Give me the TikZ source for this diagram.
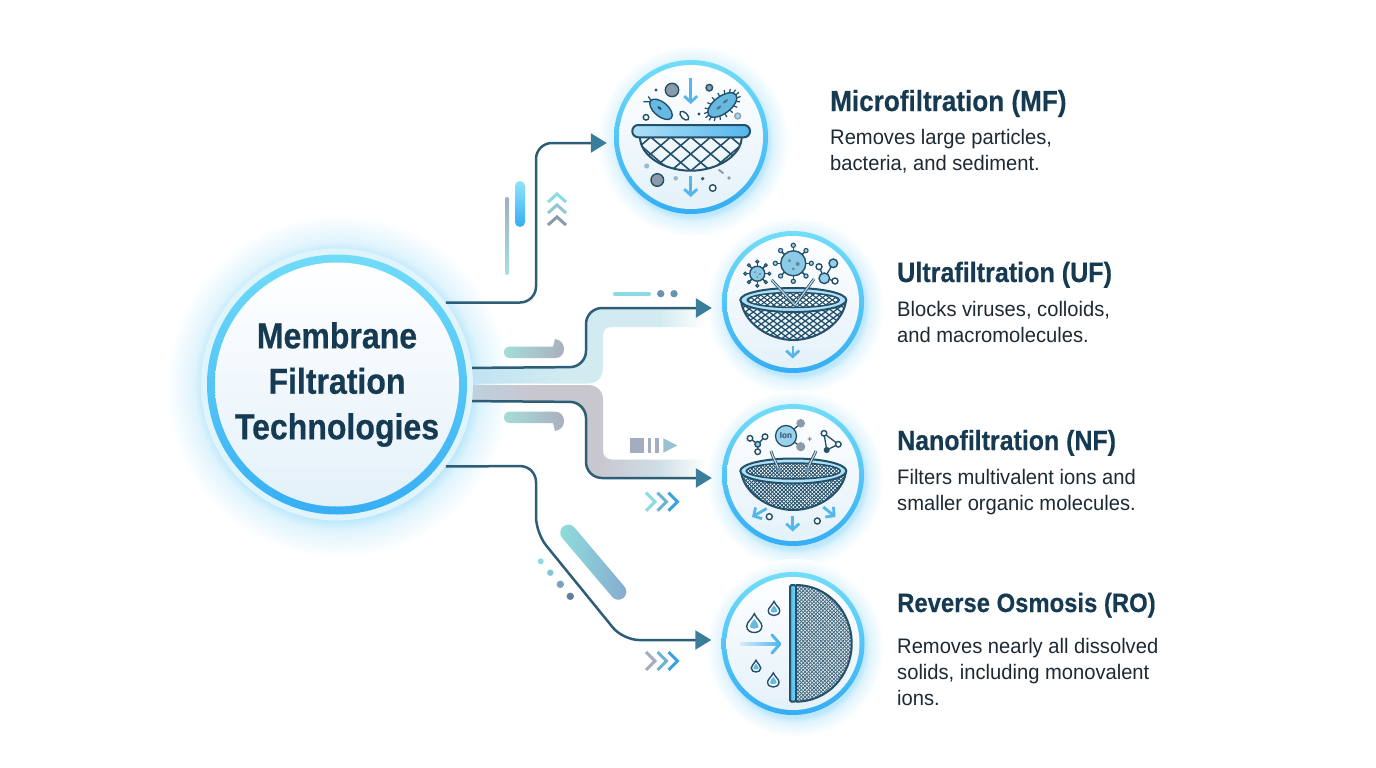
\documentclass[tikz,border=0pt]{standalone}
\usepackage{fontspec}
\usetikzlibrary{arrows.meta}
\setmainfont{Liberation Sans}
\newfontfamily\hubfont[FakeStretch=0.89,BoldFeatures={FakeStretch=0.89,FakeBold=0.5}]{Liberation Sans}
\newfontfamily\headfont[FakeStretch=0.90,BoldFeatures={FakeStretch=0.90,FakeBold=0.4}]{Liberation Sans}
\newfontfamily\bodyfont[FakeStretch=0.96]{Liberation Sans}
\definecolor{navy}{HTML}{153A52}
\definecolor{bodyink}{HTML}{1E2A33}
\definecolor{wire}{HTML}{2E5E77}
\definecolor{tipc}{HTML}{3B7E9B}
\definecolor{ink}{HTML}{24506A}
\definecolor{ringtop}{HTML}{72DDF8}
\definecolor{ringbot}{HTML}{35ADF5}
\definecolor{innerbot}{HTML}{E3F1FA}
\definecolor{pale}{HTML}{E0F4FC}
\definecolor{sky}{HTML}{55B6EC}
\definecolor{germ}{HTML}{66B9E0}
\definecolor{graydot}{HTML}{8C9BAA}
\definecolor{glowc}{HTML}{BDE8FB}
\definecolor{glowd}{HTML}{E0F4FD}
\definecolor{bandA}{HTML}{C0E3F2}
\definecolor{bandB}{HTML}{D2EBF0}
\definecolor{bandC}{HTML}{BED0DD}
\definecolor{bandD}{HTML}{C8C7D0}
\definecolor{bandE}{HTML}{CFDEE5}
\definecolor{HTMLgray}{HTML}{9FB0BC}
\definecolor{HTMLteal}{HTML}{A6E0E2}
\definecolor{HTMLch1}{HTML}{8ADBE3}
\definecolor{HTMLch2}{HTML}{93C6D3}
\definecolor{HTMLch3}{HTML}{8899AD}
\definecolor{HTMLch4}{HTML}{A4AEBB}
\definecolor{HTMLdot}{HTML}{6A94AD}
\definecolor{HTMLp1}{HTML}{A5DCD8}
\definecolor{HTMLp2}{HTML}{AAB0BF}
\definecolor{HTMLsq}{HTML}{A4ADBF}
\definecolor{HTMLtr}{HTML}{9CC0D3}
\definecolor{HTMLbl1}{HTML}{6AB5D0}
\definecolor{HTMLbl2}{HTML}{3BA2DF}
\definecolor{HTMLd1}{HTML}{8FDFDB}
\definecolor{HTMLd2}{HTML}{86A9CF}
\definecolor{HTMLd3}{HTML}{7FC7D2}
\definecolor{HTMLd4}{HTML}{7BA3B8}
\definecolor{HTMLd5}{HTML}{5D7F9C}
\definecolor{HTMLrim}{HTML}{AEE0F7}
\definecolor{HTMLrd}{HTML}{9DB9CF}
\definecolor{HTMLro}{HTML}{E4ECF1}
\pgfdeclareradialshading{glowshade}{\pgfpointorigin}{color(0bp)=(glowc); color(19.5bp)=(glowc); color(21bp)=(glowd); color(25bp)=(white); color(50bp)=(white)}
\pgfdeclarehorizontalshading{bandup}{100bp}{color(0bp)=(bandA); color(25bp)=(bandA); color(45bp)=(bandB); color(65bp)=(bandB); color(75bp)=(white); color(100bp)=(white)}
\pgfdeclarehorizontalshading{banddown}{100bp}{color(0bp)=(bandC); color(25bp)=(bandC); color(38bp)=(bandD); color(52bp)=(bandD); color(65bp)=(bandE); color(75bp)=(white); color(100bp)=(white)}
\pgfdeclarelayer{under}
\pgfsetlayers{under,main}
\tikzset{
  flow/.style={draw=wire,line width=2.5pt,rounded corners=16pt,-{Triangle[length=16pt,width=19pt,fill=tipc,color=tipc]}},
  ringnode/.style 2 args={circle,minimum size=#1,inner sep=0pt,top color=ringtop,bottom color=ringbot,
    path picture={\shade[top color=white,bottom color=innerbot] (path picture bounding box.center) circle (#2);}},
  hubnode/.style={circle,minimum size=272pt,inner sep=0pt,fill=pale,align=center,text=navy,
    font=\hubfont\bfseries\fontsize{36}{45.5}\selectfont,
    path picture={
      \shade[top color=ringtop,bottom color=ringbot] (path picture bounding box.center) circle (130);
      \shade[top color=white,bottom color=innerbot] (path picture bounding box.center) circle (122);}},
  headline/.style={anchor=base west,inner sep=0pt,text=navy,font=\headfont\bfseries\fontsize{#1}{34}\selectfont},
  bodytext/.style={anchor=north west,inner sep=0pt,align=left,text=bodyink,font=\bodyfont\fontsize{21}{25.8}\selectfont},
  chev/.style={line width=3pt,line cap=butt,miter limit=10},
  mini/.style={draw=ink,line width=1.4pt},
  fall/.style={draw=sky,line width=2.8pt,-{Straight Barb[length=6pt,width=13pt,line width=2.8pt]}},
}
% small marks
\newcommand\ringdot[4]{\draw[mini,fill=#4] (#1,#2) circle (#3);}
\newcommand\soliddot[4]{\fill[#4] (#1,#2) circle (#3);}
\newcommand\rchev[3]{\draw[chev,draw=#3] (#1,#2-9) -- (#1+9,#2) -- (#1,#2+9);}
\newcommand\uchev[3]{\draw[chev,draw=#3] (#1-9,#2+8) -- (#1,#2) -- (#1+9,#2+8);}
\newcommand\germvirus[5]{%
  \foreach \a in {0,45,...,315}{%
    \draw[ink,line width=1.5pt] ({#1+#3*cos(\a)},{#2+#3*sin(\a)}) -- ({#1+(#3+#4)*cos(\a)},{#2+(#3+#4)*sin(\a)});
    \draw[mini,line width=1.1pt,fill=germ!60] ({#1+(#3+#4)*cos(\a)},{#2+(#3+#4)*sin(\a)}) circle (#5);}
  \draw[mini,fill=germ!75] (#1,#2) circle (#3);
  \fill[ink!70] (#1-#3*.3,#2-#3*.2) circle (#3*.13);
  \fill[ink!70] (#1+#3*.35,#2+#3*.05) circle (#3*.16);
  \fill[ink!70] (#1,#2+#3*.45) circle (#3*.12);}
\newcommand\mesh[6]{% cx cy step slope width colour
  \foreach \k in {-30,...,30}{%
    \draw[#6,line width=#5pt] ({#1+\k*#3-70},{#2-70*#4}) -- ({#1+\k*#3+70},{#2+70*#4});
    \draw[#6,line width=#5pt] ({#1+\k*#3-70},{#2+70*#4}) -- ({#1+\k*#3+70},{#2-70*#4});}}
\newcommand\raindrop[3]{%
  \draw[mini,fill=white] (#1,#2-#3*1.35) .. controls (#1+#3*.35,#2-#3*.6) and (#1+#3*.95,#2-#3*.3) .. (#1+#3*.95,#2+#3*.2) .. controls (#1+#3*.95,#2+#3*.75) and (#1+#3*.45,#2+#3) .. (#1,#2+#3) .. controls (#1-#3*.45,#2+#3) and (#1-#3*.95,#2+#3*.75) .. (#1-#3*.95,#2+#3*.2) .. controls (#1-#3*.95,#2-#3*.3) and (#1-#3*.35,#2-#3*.6) .. (#1,#2-#3*1.35) -- cycle;
  \fill[germ] (#1,#2-#3*.7) .. controls (#1+#3*.3,#2-#3*.3) and (#1+#3*.55,#2) .. (#1+#3*.55,#2+#3*.25) .. controls (#1+#3*.55,#2+#3*.6) and (#1-#3*.55,#2+#3*.6) .. (#1-#3*.55,#2+#3*.25) .. controls (#1-#3*.55,#2) and (#1-#3*.3,#2-#3*.3) .. (#1,#2-#3*.7) -- cycle;}
\begin{document}
\begin{tikzpicture}[x=1pt,y=-1pt]
\useasboundingbox (0,0) rectangle (1376,768);

% ---- hub and icon circles
\node[hubnode] (hub) at (337,384.5) {Membrane\\Filtration\\Technologies};
\node[ringnode={154pt}{72}] (mf) at (691,137) {};
\node[ringnode={142pt}{66}] (uf) at (793,302) {};
\node[ringnode={142pt}{66}] (nf) at (793,475) {};
\node[ringnode={143pt}{66.5}] (ro) at (793,643.5) {};

% ---- under layer: background, glows, wide bands
\begin{pgfonlayer}{under}
\fill[white] (0,0) rectangle (1376,768);
\shade[shading=glowshade] (338,386) circle (172);
\shade[shading=glowshade] (693,141) circle (96);
\shade[shading=glowshade] (795,306) circle (89);
\shade[shading=glowshade] (795,479) circle (89);
\shade[shading=glowshade] (795,648) circle (89);
\shade[shading=bandup] (472,367) -- (566,367) .. controls (578,367) and (586,358) .. (586,346) -- (586,328) .. controls (586,316) and (594,308) .. (606,308) -- (706,308) -- (706,327) -- (612,327) .. controls (606,327) and (603,330) .. (603,336) -- (603,368) .. controls (603,378) and (596,383.5) .. (588,383.5) -- (472,383.5) -- cycle;
\shade[shading=banddown] (472,385) -- (588,385) .. controls (597,385) and (603,391) .. (603,400) -- (603,450) .. controls (603,456) and (606,459.5) .. (612,459.5) -- (706,459.5) -- (706,478) -- (606,478) .. controls (594,478) and (586,470) .. (586,458) -- (586,424) .. controls (586,411) and (578,402) .. (566,402) -- (472,402) -- cycle;
\end{pgfonlayer}

% ---- connectors
\draw[flow] (hub.37.3) -- (536,302.5) -- (536,143) -- ([shift={(-7,6)}]mf.west);
\draw[flow] (hub.7.4) -- (586,367) -- (586,308) -- ([shift={(-10,6)}]uf.west);
\draw[flow] (hub.-7.4) -- (586,402) -- (586,478) -- ([shift={(-10,3)}]nf.west);
\draw[flow] (hub.-37.3) -- (536,466) -- (536,533) -- (623,640) -- ([shift={(-10,-3.5)}]ro.west);

% ---- decorative marks along the connectors
\shade[top color=ringtop!80!white,bottom color=ringbot,rounded corners=5pt] (515,181) rectangle (525,227);
\shade[top color=HTMLgray,bottom color=HTMLteal,rounded corners=2pt] (505,197) rectangle (509,275);
\uchev{557}{194}{HTMLch1}
\uchev{557}{205}{HTMLch2}
\uchev{557}{217}{HTMLch3}
\draw[HTMLch1,line width=4pt,line cap=round] (615,293.7) -- (649,293.7);
\fill[HTMLdot] (660.7,293.7) circle (3.7);
\fill[HTMLdot] (674,293.7) circle (3.7);
\shade[left color=HTMLp1,right color=HTMLp2] (510,346.7) -- (553,346.7) -- (555,339) .. controls (561,340) and (564,344) .. (564,349) .. controls (564,355) and (560,358) .. (555,358) -- (510,358) .. controls (506,358) and (504,355.5) .. (504,352.3) .. controls (504,349) and (506,346.7) .. (510,346.7) -- cycle;
\shade[left color=HTMLp1,right color=HTMLp2] (510,423) -- (553,423) -- (555,431) .. controls (561,430) and (564,426) .. (564,421) .. controls (564,415) and (560,411.7) .. (555,411.7) -- (510,411.7) .. controls (506,411.7) and (504,414) .. (504,417.3) .. controls (504,420.6) and (506,423) .. (510,423) -- cycle;
\fill[HTMLsq] (630,438.3) rectangle (644,452.7);
\fill[HTMLsq] (648,438.3) rectangle (651.3,452.7);
\fill[HTMLsq] (655,438.3) rectangle (659.3,452.7);
\fill[HTMLtr] (663.3,438.3) -- (677.3,445.5) -- (663.3,452.7) -- cycle;
\rchev{646}{501.7}{HTMLch1}
\rchev{657.5}{501.7}{HTMLbl1}
\rchev{668.5}{501.7}{HTMLbl2}
\rchev{646}{661}{HTMLch4}
\rchev{657.5}{661}{HTMLbl1}
\rchev{668.5}{661}{HTMLbl2}
\shade[left color=HTMLd1,right color=HTMLd2,rounded corners=7.9pt] (569.2,521.4) -- (629.6,592.6) -- (617.4,603) -- (557,531.8) -- cycle;
\fill[HTMLch1] (540.7,561.3) circle (3);
\fill[HTMLd3] (550.3,572.7) circle (3.2);
\fill[HTMLd4] (560.3,584.3) circle (3.7);
\fill[HTMLd5] (570.3,596.3) circle (3.7);

% ---- Microfiltration icon
\draw[fall] (690.7,78) -- (690.7,104);
\draw[fall] (690.7,176) -- (690.7,197);
\ringdot{672}{90}{6.7}{graydot}
\soliddot{656}{90}{1.7}{ink}
\ringdot{709.3}{87.7}{3.3}{graydot}
\draw[ink,line width=1.3pt] (651.7,101.7) -- (643.3,101.7) (651.7,101.7) -- (648.3,96.5);
\draw[mini,fill=germ,rotate around={-40:(661,109.3)}] (661,109.3) ellipse [x radius=13.5,y radius=7];
\fill[ink,rotate around={-40:(661,109.3)}] (659,109.3) ellipse [x radius=2.5,y radius=1.2];
\draw[mini,fill=white,rotate around={-45:(684.3,115.7)}] (684.3,115.7) ellipse [x radius=5.5,y radius=3];
\ringdot{646}{117.3}{2.8}{white}
\soliddot{699}{114}{1.7}{ink}
\begin{scope}[rotate around={37:(722.3,105)}]
\foreach \t in {0,20,...,340}{\draw[ink,line width=1.2pt] ({722.3+17*cos(\t)},{105+8.5*sin(\t)}) -- ({722.3+21*cos(\t)},{105+12.5*sin(\t)});}
\draw[mini,fill=germ] (722.3,105) ellipse [x radius=17,y radius=8.5];
\fill[ink!80] (718,105) ellipse [x radius=3,y radius=1.2];
\fill[ink!80] (727,104) ellipse [x radius=3,y radius=1.2];
\end{scope}
\draw[draw=graydot,line width=1.2pt,fill=germ!60] (737.7,116) circle (3);
\begin{scope}
\clip (640,137) .. controls (640,155) and (663,170.7) .. (690.7,170.7) .. controls (718,170.7) and (741.7,155) .. (741.7,137) -- cycle;
\mesh{690.7}{137}{20}{0.85}{1.6}{ink}
\end{scope}
\draw[ink,line width=2pt] (640,137) .. controls (640,155) and (663,170.7) .. (690.7,170.7) .. controls (718,170.7) and (741.7,155) .. (741.7,137);
\shade[left color=HTMLrim,right color=sky,draw=ink,line width=2pt,rounded corners=6pt] (632.3,125) rectangle (750,137.3);
\fill[HTMLrd] (646.7,166) circle (2.6);
\ringdot{657.3}{180}{6.3}{graydot}
\fill[HTMLrd] (675.7,178.3) circle (2.3);
\soliddot{702.7}{178.7}{1.8}{ink}
\ringdot{712.7}{188}{3.3}{white}
\draw[graydot,line width=2pt,line cap=round] (719,170) -- (723,173);
\fill[graydot] (729,178) circle (1.8);

% ---- Ultrafiltration icon
\germvirus{757.3}{273.7}{7.5}{4.5}{1.5}
\germvirus{793.3}{263.3}{12.5}{5.5}{2.1}
\draw[ink,line width=1.3pt] (819,266.7) -- (824.3,278.3) -- (833.3,263.3) (824.3,278.3) -- (835,281);
\ringdot{819}{266.7}{3}{white}
\ringdot{833.3}{263.3}{4.3}{germ!70}
\ringdot{824.3}{278.3}{5.3}{germ!70}
\ringdot{835}{281}{3}{white}
\begin{scope}
\clip (741,300) .. controls (743,322) and (768,340) .. (793.3,340) .. controls (819,340) and (844,322) .. (846,300) -- cycle;
\mesh{793.3}{300}{8}{0.75}{1.3}{ink}
\end{scope}
\draw[ink,line width=2pt] (741,300) .. controls (743,322) and (768,340) .. (793.3,340) .. controls (819,340) and (844,322) .. (846,300);
\draw[ink,line width=2pt,fill=HTMLrim] (793.3,300) ellipse [x radius=53,y radius=12];
\begin{scope}
\clip (793.3,300) ellipse [x radius=46,y radius=7.5];
\fill[white] (740,285) rectangle (850,315);
\mesh{793.3}{300}{6.5}{0.75}{1.1}{ink}
\end{scope}
\draw[ink,line width=1.5pt] (793.3,300) ellipse [x radius=46,y radius=7.5];
\draw[ink,line width=2.8pt,line join=round] (771.7,280) -- (795,305) -- (814,279);
\draw[HTMLtr!70!white,line width=1.3pt,line join=round] (771.7,280) -- (795,305) -- (814,279);
\draw[fall,line width=2.4pt] (792.7,346) -- (792.7,358.5);

% ---- Nanofiltration icon
\draw[ink,line width=1.3pt] (750,438.3) -- (757.7,444.3) -- (765,436.7) (757.7,444.3) -- (757.7,451.7);
\ringdot{750}{438.3}{2.8}{white}
\ringdot{765}{436.7}{2.8}{white}
\ringdot{757.7}{444.3}{2.8}{germ!70}
\ringdot{757.7}{451.7}{2.8}{white}
\draw[ink,line width=1.3pt] (786,436) -- (800.7,423.3) (786,436) -- (800.7,446.7);
\fill[graydot] (800.7,423.3) circle (4.3);
\fill[graydot] (800.7,446.7) circle (4.6);
\node[circle,minimum size=21pt,inner sep=0pt,draw=ink,line width=1.3pt,fill=germ!65,text=ink,font=\bodyfont\bfseries\fontsize{8.5}{9}\selectfont] (ion) at (786,436) {Ion};
\node[inner sep=0pt,text=ink,font=\bodyfont\fontsize{9}{9}\selectfont] (plus) at (810,440) {+};
\draw[ink,line width=1.3pt] (824,433.3) -- (838.3,444.3) -- (826.7,450) -- cycle;
\ringdot{824}{433.3}{2.8}{white}
\ringdot{838.3}{444.3}{2.8}{white}
\ringdot{826.7}{450}{2.3}{ink}
\begin{scope}
\clip (741,471) .. controls (743,492) and (768,510) .. (793.3,510) .. controls (819,510) and (844,492) .. (846,471) -- cycle;
\mesh{793.3}{471}{3.8}{1}{.85}{ink}
\end{scope}
\draw[ink,line width=2pt] (741,471) .. controls (743,492) and (768,510) .. (793.3,510) .. controls (819,510) and (844,492) .. (846,471);
\draw[ink,line width=2pt,fill=HTMLrim] (793.3,471) ellipse [x radius=53,y radius=12.5];
\begin{scope}
\clip (793.3,471) ellipse [x radius=47,y radius=8];
\fill[white] (740,455) rectangle (850,490);
\mesh{793.3}{471}{3.6}{1}{.8}{ink}
\end{scope}
\draw[ink,line width=1.5pt] (793.3,471) ellipse [x radius=47,y radius=8];
\draw[ink,line width=2.8pt] (771,451) .. controls (773,458) and (776,462) .. (779,470);
\draw[ink,line width=2.8pt] (816,451) .. controls (813,458) and (810,462) .. (807.3,470);
\draw[HTMLsq!60!white,line width=1.3pt] (771,451) .. controls (773,458) and (776,462) .. (779,470);
\draw[HTMLsq!60!white,line width=1.3pt] (816,451) .. controls (813,458) and (810,462) .. (807.3,470);
\fill[HTMLdot] (779,470) circle (2.5);
\fill[HTMLdot] (807.3,470) circle (2.5);
\draw[fall] (766.7,508.5) -- (752,517);
\draw[fall] (792.7,516) -- (792.7,531.5);
\draw[fall] (823.3,507) -- (835.5,517);
\ringdot{769.3}{516.7}{3}{white}
\ringdot{817.3}{521}{3}{white}

% ---- Reverse osmosis icon
\begin{scope}
\clip (796,585) .. controls (827,585) and (851.7,611) .. (851.7,643.5) .. controls (851.7,676) and (827,701.7) .. (796,701.7) -- cycle;
\fill[HTMLro] (790,580) rectangle (855,705);
\mesh{823}{643}{3.6}{1}{.75}{ink!85}
\end{scope}
\draw[ink,line width=2pt] (796,585) .. controls (827,585) and (851.7,611) .. (851.7,643.5) .. controls (851.7,676) and (827,701.7) .. (796,701.7);
\shade[left color=sky,right color=ringtop,draw=ink,line width=2pt,rounded corners=1.5pt] (790,585) rectangle (796,701.7);
\raindrop{774}{609.5}{6}
\raindrop{754.3}{624.5}{8}
\raindrop{756}{667}{5}
\raindrop{773.3}{681}{6}
\shade[left color=sky!25!white,right color=sky] (740,642.5) rectangle (779,645.5);
\draw[draw=sky,line width=3pt,line cap=round,line join=round] (772,635) -- (780,644) -- (772,653);

% ---- labels
\node[headline=29] (mft) at (830,111) {Microfiltration (MF)};
\node[bodytext] (mfd) at (830,129) {Removes large particles,\\bacteria, and sediment.};
\node[headline=27.9] (uft) at (897,282) {Ultrafiltration (UF)};
\node[bodytext] (ufd) at (897,301) {Blocks viruses, colloids,\\and macromolecules.};
\node[headline=27.7] (nft) at (897,450) {Nanofiltration (NF)};
\node[bodytext] (nfd) at (897,469) {Filters multivalent ions and\\smaller organic molecules.};
\node[headline=26.5] (rot) at (897,612) {Reverse Osmosis (RO)};
\node[bodytext] (rod) at (897,638.5) {Removes nearly all dissolved\\solids, including monovalent\\ions.};
\end{tikzpicture}
\end{document}
